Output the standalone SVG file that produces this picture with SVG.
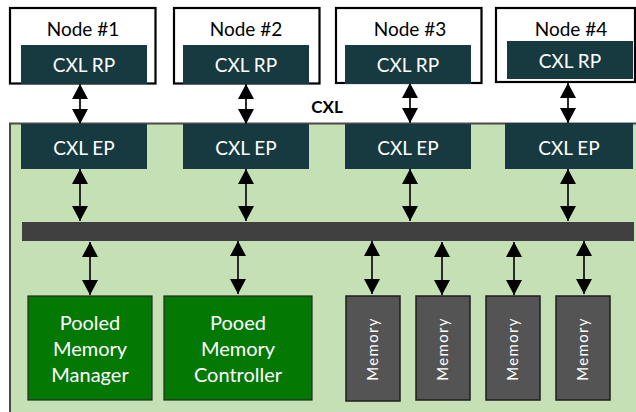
<svg xmlns="http://www.w3.org/2000/svg" width="636" height="412" viewBox="0 0 636 412">
<style>
  text { font-family: Lato, "Liberation Sans", sans-serif; }
  .node { fill: #ffffff; stroke: #000000; stroke-width: 2.2; }
  .port { fill: #173a41; }
  .lbl { font-size: 19px; fill: #000000; text-anchor: middle; }
  .plbl { font-size: 19px; fill: #ffffff; text-anchor: middle; }
  .glbl { font-size: 20px; fill: #ffffff; text-anchor: middle; }
  .pool { fill: #037803; stroke: #1e2a1e; stroke-width: 1.2; }
  .mem { fill: #545454; stroke: #1e1e1e; stroke-width: 1.5; }
  .memlbl { font-size: 15px; fill: #ffffff; text-anchor: middle; letter-spacing: 1.3px; }
  .conn { stroke: #2a2a2a; stroke-width: 2; fill: none; marker-start: url(#ah); marker-end: url(#ah); }
</style>
<defs>
  <marker id="ah" markerUnits="userSpaceOnUse" markerWidth="16" markerHeight="16" viewBox="0 0 14 15" refX="14" refY="7.5" orient="auto-start-reverse">
    <path d="M0,0 L14,7.5 L0,15 Z" fill="#000000"/>
  </marker>
</defs>
<rect width="636" height="412" fill="#ffffff"/>
<g id="fabric">
  <rect x="10" y="123.5" width="630" height="295" fill="#c5e0b4" stroke="#4a4a4a" stroke-width="2"/>
  <text x="327" y="113" font-size="17" font-weight="bold" text-anchor="middle" fill="#000000">CXL</text>
</g>
<g id="node1">
  <rect class="node" x="10" y="8" width="145.5" height="75.5"/>
  <text class="lbl" x="83" y="36">Node #1</text>
  <rect class="port" x="21" y="45" width="126" height="39"/>
  <text class="plbl" x="84" y="72">CXL RP</text>
</g>
<g id="node2">
  <rect class="node" x="174" y="8" width="145.5" height="75.5"/>
  <text class="lbl" x="246" y="36">Node #2</text>
  <rect class="port" x="183" y="45" width="126" height="39"/>
  <text class="plbl" x="246" y="72">CXL RP</text>
</g>
<g id="node3">
  <rect class="node" x="336" y="8" width="145.5" height="75"/>
  <text class="lbl" x="410" y="36">Node #3</text>
  <rect class="port" x="345" y="45" width="126" height="39"/>
  <text class="plbl" x="408" y="72">CXL RP</text>
</g>
<g id="node4">
  <rect class="node" x="496" y="8" width="139" height="74"/>
  <text class="lbl" x="571" y="36">Node #4</text>
  <rect class="port" x="507" y="41" width="126" height="38"/>
  <text class="plbl" x="570" y="68">CXL RP</text>
</g>
<g id="ep1">
  <rect class="port" x="21" y="124" width="126" height="45"/>
  <text class="plbl" x="84" y="155">CXL EP</text>
</g>
<g id="ep2">
  <rect class="port" x="183" y="124" width="126" height="45"/>
  <text class="plbl" x="246" y="155">CXL EP</text>
</g>
<g id="ep3">
  <rect class="port" x="345" y="124" width="126" height="45"/>
  <text class="plbl" x="408" y="155">CXL EP</text>
</g>
<g id="ep4">
  <rect class="port" x="505" y="123" width="128" height="46"/>
  <text class="plbl" x="569" y="155">CXL EP</text>
</g>
<g id="bus">
  <rect x="22" y="222" width="612" height="19" fill="#404040"/>
</g>
<g id="manager">
  <rect class="pool" x="28" y="296" width="124" height="104"/>
  <text class="glbl" x="90" y="330">Pooled</text>
  <text class="glbl" x="90" y="356">Memory</text>
  <text class="glbl" x="90" y="382">Manager</text>
</g>
<g id="controller">
  <rect class="pool" x="164" y="296" width="148" height="104"/>
  <text class="glbl" x="238" y="330">Pooed</text>
  <text class="glbl" x="238" y="356">Memory</text>
  <text class="glbl" x="238" y="382">Controller</text>
</g>
<g id="mem1">
  <rect class="mem" x="346" y="296" width="54" height="105"/>
  <text class="memlbl" transform="translate(378,349) rotate(-90)">Memory</text>
</g>
<g id="mem2">
  <rect class="mem" x="416" y="296" width="54" height="104"/>
  <text class="memlbl" transform="translate(448,349) rotate(-90)">Memory</text>
</g>
<g id="mem3">
  <rect class="mem" x="486" y="296" width="54" height="104"/>
  <text class="memlbl" transform="translate(518,349) rotate(-90)">Memory</text>
</g>
<g id="mem4">
  <rect class="mem" x="556" y="296" width="54" height="104"/>
  <text class="memlbl" transform="translate(588,349) rotate(-90)">Memory</text>
</g>
<g id="connectors">
  <line class="conn" x1="80" y1="84" x2="80" y2="124"/>
  <line class="conn" x1="246" y1="84" x2="246" y2="124"/>
  <line class="conn" x1="410" y1="83" x2="410" y2="123"/>
  <line class="conn" x1="568" y1="83" x2="568" y2="123"/>
  <line class="conn" x1="80" y1="169" x2="80" y2="221"/>
  <line class="conn" x1="246" y1="169" x2="246" y2="221"/>
  <line class="conn" x1="410" y1="169" x2="410" y2="221"/>
  <line class="conn" x1="568" y1="169" x2="568" y2="221"/>
  <line class="conn" x1="90" y1="242" x2="90" y2="295"/>
  <line class="conn" x1="238" y1="241" x2="238" y2="294"/>
  <line class="conn" x1="372" y1="241" x2="372" y2="294"/>
  <line class="conn" x1="442" y1="242" x2="442" y2="295"/>
  <line class="conn" x1="514" y1="242" x2="514" y2="295"/>
  <line class="conn" x1="584" y1="241" x2="584" y2="294"/>
</g>
</svg>
